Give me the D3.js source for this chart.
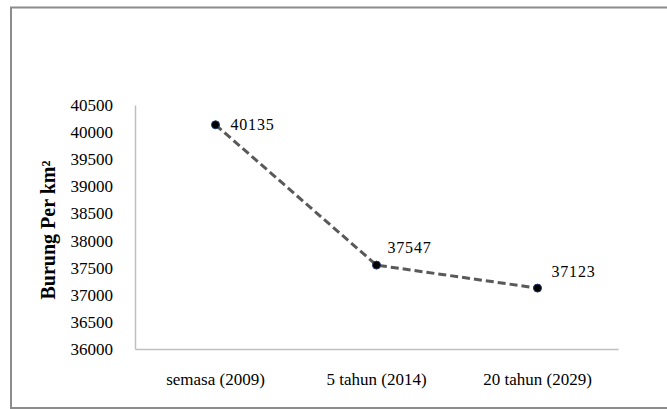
<!DOCTYPE html>
<html><head><meta charset="utf-8">
<script src="https://cdn.jsdelivr.net/npm/d3@7/dist/d3.min.js"></script>
<style>body{margin:0;background:#fff}svg{display:block}</style>
</head><body>
<script>
const categories = ["semasa (2009)", "5 tahun (2014)", "20 tahun (2029)"];
const values = [40135, 37547, 37123];
const yTicks = [36000, 36500, 37000, 37500, 38000, 38500, 39000, 39500, 40000, 40500];
const yTitle = "Burung Per km²";
const labelOffsets = [[15, 0], [11, -18], [14, -17]];

const W = 667, H = 409;
const svg = d3.select("body").append("svg").attr("width", W).attr("height", H);
svg.append("rect").attr("x", 11).attr("y", 7.5).attr("width", 700).attr("height", 400.5)
  .attr("fill", "#fff").attr("stroke", "#8c8c8c").attr("stroke-width", 2);

const m = {l: 135, r: 618, t: 105, b: 349};
const x = d3.scaleBand().domain(categories).range([m.l, m.r]);
const y = d3.scaleLinear().domain([36000, 40500]).range([m.b, m.t]);
const font = "Liberation Serif, Times New Roman, serif";
const fs = "17px";

const ya = svg.append("g").attr("transform", `translate(${m.l},0)`)
  .call(d3.axisLeft(y).tickValues(yTicks).tickSize(0).tickPadding(22).tickFormat(d3.format("d")));
ya.select(".domain").attr("stroke", "#bfbfbf").attr("stroke-width", 1.5);
ya.selectAll("text").style("font-family", font).style("font-size", fs).attr("fill", "#000");

const xa = svg.append("g").attr("transform", `translate(0,${m.b})`)
  .call(d3.axisBottom(x).tickSize(0).tickPadding(24));
xa.select(".domain").attr("stroke", "#bfbfbf").attr("stroke-width", 1.5);
xa.selectAll("text").style("font-family", font).style("font-size", fs).attr("fill", "#000");

svg.append("text").attr("transform", `translate(55,230) rotate(-90)`)
  .attr("text-anchor", "middle").style("font-family", font).attr("font-weight", "bold")
  .style("font-size", "20px").text(yTitle);

const pts = categories.map((c, i) => [x(c) + x.bandwidth() / 2, y(values[i])]);
svg.append("path").attr("d", d3.line()(pts)).attr("fill", "none")
  .attr("stroke", "#595959").attr("stroke-width", 3).attr("stroke-dasharray", "8,4");
svg.selectAll("circle.pt").data(pts).join("circle").attr("class", "pt")
  .attr("cx", d => d[0]).attr("cy", d => d[1]).attr("r", 4)
  .attr("fill", "#000").attr("stroke", "#1f3864").attr("stroke-width", 1);
svg.selectAll("text.lbl").data(pts).join("text").attr("class", "lbl")
  .attr("x", (d, i) => d[0] + labelOffsets[i][0]).attr("y", (d, i) => d[1] + labelOffsets[i][1])
  .attr("dy", "0.35em").style("font-family", font).style("font-size", "16px")
  .attr("letter-spacing", 0.8).text((d, i) => values[i]);
</script>
</body></html>
